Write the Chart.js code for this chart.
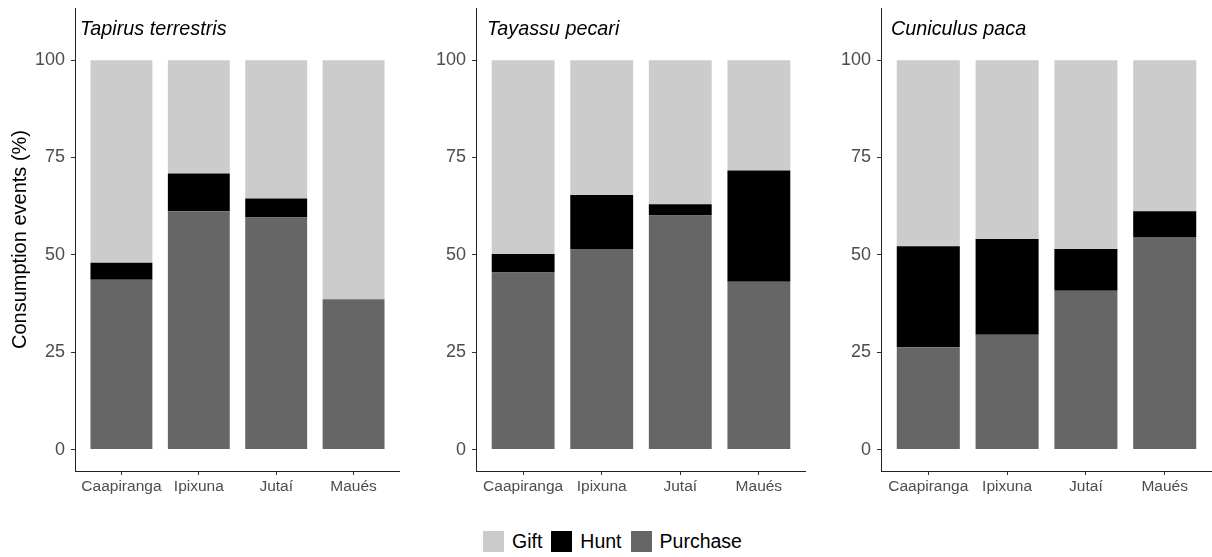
<!DOCTYPE html>
<html>
<head>
<meta charset="utf-8">
<script src="https://cdn.jsdelivr.net/npm/chart.js@4.4.1/dist/chart.umd.min.js"></script>
<style>
  body { margin: 0; background: #fff; width: 1212px; height: 557px; position: relative; overflow: hidden; font-family: "Liberation Sans", Arial, sans-serif; }
  canvas { position: absolute; top: 0; }
  #legend { position: absolute; top: 530px; left: 483px; display: flex; align-items: center; font-size: 19.5px; color: #000; }
  #legend .item { display: flex; align-items: center; margin-right: 9px; }
  #legend .box { width: 21px; height: 21px; margin-right: 8px; }
</style>
</head>
<body>
<canvas id="c1" width="400" height="500" style="left:0px"></canvas>
<canvas id="c2" width="395" height="500" style="left:411px"></canvas>
<canvas id="c3" width="396" height="500" style="left:816px"></canvas>
<div id="legend"></div>
<script>
// categories and species
const categories = ['Caapiranga', 'Ipixuna', 'Jutaí', 'Maués'];
const species = ['Tapirus terrestris', 'Tayassu pecari', 'Cuniculus paca'];
const yTicks = [0, 25, 50, 75, 100];

// values per species (%), same order as categories
const purchase = [
  [43.6, 61.2, 59.6, 38.6],
  [45.5, 51.5, 60.1, 43.1],
  [26.3, 29.5, 40.8, 54.6]
];
const hunt = [
  [4.4, 9.7, 4.9, 0],
  [4.7, 13.9, 2.9, 28.6],
  [25.9, 24.6, 10.7, 6.6]
];
const gift = [
  [52.0, 29.1, 35.5, 61.4],
  [49.8, 34.6, 37.0, 28.3],
  [47.8, 45.9, 48.5, 38.8]
];

const seriesNames = ['Gift', 'Hunt', 'Purchase'];
const seriesColors = { Gift: '#cccccc', Hunt: '#000000', Purchase: '#666666' };

const FONT = '"Liberation Sans", Arial, sans-serif';

// species name written inside the panel, top left
const speciesLabel = {
  id: 'speciesLabel',
  afterDraw(chart, args, opts) {
    const ctx = chart.ctx;
    const y = chart.scales.y.getPixelForValue(108);
    ctx.save();
    ctx.font = 'italic 19.8px ' + FONT;
    ctx.fillStyle = '#000';
    ctx.textBaseline = 'middle';
    ctx.textAlign = 'left';
    ctx.fillText(opts.text, chart.chartArea.left + opts.dx, y);
    ctx.restore();
  }
};

function makePanel(id, idx, axisWidth, dx, showTitle) {
  const toPts = arr => arr.map((v, i) => ({ x: i, y: v }));
  const datasets = [
    { label: 'Purchase', data: toPts(purchase[idx]), backgroundColor: seriesColors.Purchase },
    { label: 'Hunt', data: toPts(hunt[idx]), backgroundColor: seriesColors.Hunt },
    { label: 'Gift', data: toPts(gift[idx]), backgroundColor: seriesColors.Gift }
  ];
  datasets.forEach(d => { d.barPercentage = 0.8; d.categoryPercentage = 1; d.borderWidth = 0; });

  new Chart(document.getElementById(id), {
    type: 'bar',
    data: { datasets },
    options: {
      responsive: false,
      animation: false,
      layout: { padding: { top: 8, right: 0, left: 0, bottom: 0 } },
      plugins: {
        legend: { display: false },
        tooltip: { enabled: false },
        speciesLabel: { text: species[idx], dx: dx }
      },
      scales: {
        x: {
          type: 'linear',
          stacked: true,
          offset: false,
          min: -0.6,
          max: 3.6,
          afterBuildTicks: axis => { axis.ticks = categories.map((c, i) => ({ value: i })); },
          afterFit: axis => { axis.height = 29; axis.paddingLeft = 0; axis.paddingRight = 0; },
          ticks: {
            callback: v => categories[v],
            color: '#4d4d4d',
            font: { family: FONT, size: 15.5 },
            padding: 2,
            maxRotation: 0,
            autoSkip: false
          },
          grid: { display: true, offset: false, drawOnChartArea: false, drawTicks: true, tickLength: 4, color: '#333' },
          border: { display: true, color: '#222', width: 1 }
        },
        y: {
          stacked: true,
          min: -5.5,
          max: 113.4,
          afterBuildTicks: axis => { axis.ticks = yTicks.map(v => ({ value: v })); },
          afterFit: axis => { axis.width = axisWidth; axis.paddingTop = 0; axis.paddingBottom = 0; },
          ticks: {
            color: '#4d4d4d',
            font: { family: FONT, size: 18 },
            padding: 6
          },
          grid: { display: true, drawOnChartArea: false, drawTicks: true, tickLength: 4, color: '#333' },
          border: { display: true, color: '#222', width: 1 },
          title: {
            display: showTitle,
            text: 'Consumption events (%)',
            color: '#000',
            font: { family: FONT, size: 20 },
            padding: { top: 8, bottom: 0 }
          }
        }
      }
    },
    plugins: [speciesLabel]
  });
}

makePanel('c1', 0, 75, 5, true);
makePanel('c2', 1, 65, 11, false);
makePanel('c3', 2, 65, 10, false);

// legend
const legend = document.getElementById('legend');
seriesNames.forEach(name => {
  const item = document.createElement('div');
  item.className = 'item';
  const box = document.createElement('div');
  box.className = 'box';
  box.style.background = seriesColors[name];
  const txt = document.createElement('span');
  txt.textContent = name;
  item.appendChild(box);
  item.appendChild(txt);
  legend.appendChild(item);
});
</script>
</body>
</html>
